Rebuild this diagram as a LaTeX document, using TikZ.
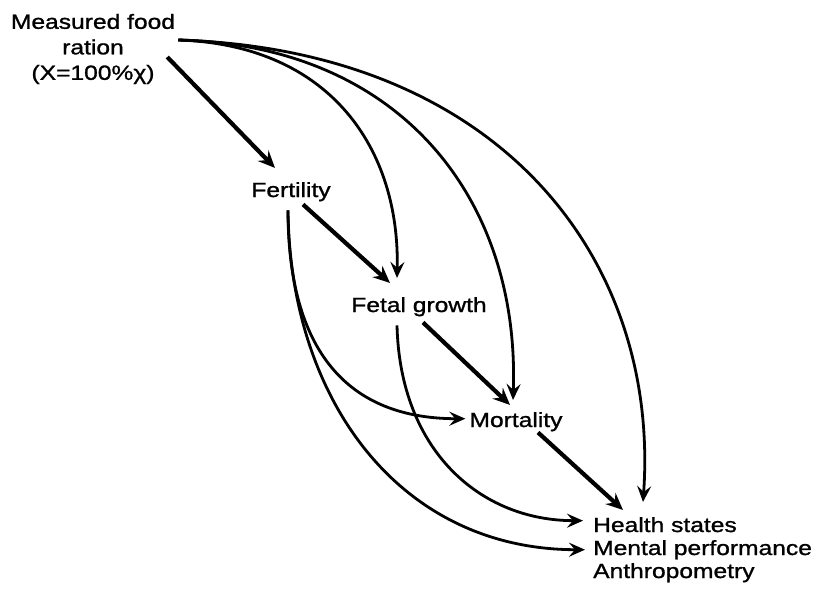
\documentclass[tikz,border=0pt]{standalone}
\usepackage{fontspec}
\setmainfont[FakeStretch=1.2,FakeBold=1.2]{Liberation Sans}
\usetikzlibrary{arrows.meta,calc}
\begin{document}
\begin{tikzpicture}[x=1pt,y=-1pt,
  lbl/.style={inner sep=0pt, font=\fontsize{20.5}{23.3}\selectfont},
  straight/.style={line width=4.2pt, -{Stealth[length=17pt,width=15pt,inset=6pt]}},
  curved/.style={line width=2.8pt, -{Stealth[length=16pt,width=14pt,inset=6pt]}}]
\useasboundingbox (0,0) rectangle (817,590);
\node[lbl, align=center, font=\fontsize{20.5}{25.5}\selectfont] (food) at (93,49) {Measured food\\ration\\(X=100\%χ)};
\node[lbl, anchor=base] (fert) at (291,197) {Fertility};
\node[lbl, anchor=base] (fetal) at (419,312) {Fetal growth};
\node[lbl, anchor=base] (mort) at (516,427) {Mortality};
\node[lbl, anchor=base west] (hs) at (593,532) {Health states};
\node[lbl, anchor=base west] (mp) at (593,555) {Mental performance};
\node[lbl, anchor=base west] (an) at (593,578) {Anthropometry};
% straight arrows
\draw[straight] ($(food.east)+(-8,8)$) -- ($(fert.north)+(-16,-14)$);
\draw[straight] ($(fert.south)+(12,3)$) -- ($(fetal.north)+(-29,-14)$);
\draw[straight] ($(fetal.south)+(4,6)$) -- ($(mort.north)+(-6,-7)$);
\draw[straight] ($(mort.south)+(22,1)$) -- ($(hs.north west)+(30,-7)$);
% curves from food
\draw[curved] ($(food.east)+(3,-9)$) .. controls +(153,5) and +(3,-128) .. ($(fetal.north)+(-22,-19)$);
\draw[curved] ($(food.east)+(3,-9)$) .. controls +(223,5) and +(7,-200) .. ($(mort.north)+(-3,-12)$);
\draw[curved] ($(food.east)+(3,-9)$) .. controls +(323,10) and +(17,-242) .. ($(hs.north west)+(50,-15)$);
% curves from fertility
\draw[curved] ($(fert.south)+(-3,9)$) .. controls +(0,130) and +(-126,0) .. ($(mort.west)+(-4,-3)$);
\draw[curved] ($(fert.south)+(-3,9)$) .. controls +(2,190) and +(-185,0) .. ($(mp.west)+(-8,0)$);
% curve from fetal growth
\draw[curved] ($(fetal.south)+(-22,9)$) .. controls +(3,125) and +(-103,0) .. ($(hs.west)+(-10,-4)$);
\end{tikzpicture}
\end{document}
